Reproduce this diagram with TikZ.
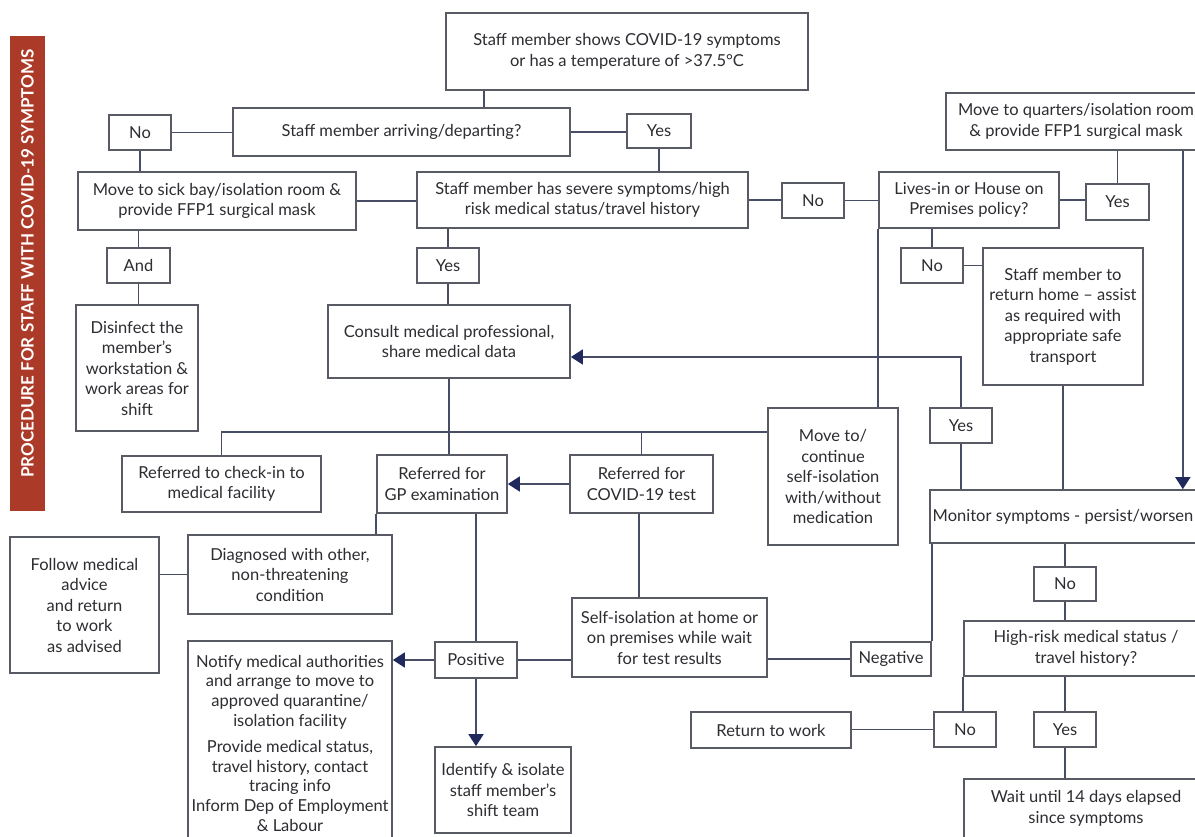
\documentclass[tikz,border=0pt]{standalone}
\usepackage{fontspec}
\setmainfont{Lato}
\usetikzlibrary{arrows.meta,calc}
\definecolor{boxc}{RGB}{88,90,100}
\definecolor{linec}{RGB}{72,76,100}
\definecolor{arrowc}{RGB}{32,42,92}
\definecolor{barc}{RGB}{172,58,40}
\definecolor{textc}{RGB}{45,45,50}
\begin{document}
\begin{tikzpicture}[x=1pt,y=-1pt,
  box/.style={draw=boxc, line width=1.7pt, align=center, inner sep=2pt, text=textc,
    font=\fontsize{16.5}{20.5}\selectfont},
  conn/.style={draw=linec, line width=1.7pt},
  arr/.style={conn, -{Triangle[width=15pt,length=12pt,color=arrowc]}}]
\useasboundingbox (0,0) rectangle (1195,836);
\fill[white] (0,0) rectangle (1195,836);
\clip (0,0) rectangle (1195,836);

% title bar
\node[fill=barc, rotate=90, minimum width=475pt, minimum height=35pt, inner sep=0pt,
  text=white, font=\bfseries\fontsize{17}{17}\selectfont] (bar) at (27.5,273.5)
  {\hspace*{20pt}PROCEDURE FOR STAFF WITH COVID-19 SYMPTOMS};

% boxes
\node[box, minimum width=362pt, minimum height=77pt] (T0) at (627,51.5)
  {Staff member shows COVID-19 symptoms\\or has a temperature of >37.5°C};
\node[box, minimum width=337pt, minimum height=48pt] (Q1) at (401.5,132)
  {Staff member arriving/departing?};
\node[box, minimum width=62pt, minimum height=35pt] (No1) at (140,132.5) {No};
\node[box, minimum width=64pt, minimum height=34pt] (Yes1) at (659,131) {Yes};
\node[box, minimum width=278pt, minimum height=58pt] (B1) at (217,201)
  {Move to sick bay/isolation room \&\\provide FFP1 surgical mask};
\node[box, minimum width=331pt, minimum height=56pt] (Q2) at (582.5,200)
  {Staff member has severe symptoms/high\\risk medical status/travel history};
\node[box, minimum width=62pt, minimum height=35pt] (No2) at (813,200.5) {No};
\node[box, minimum width=180pt, minimum height=56pt] (Q3) at (969,200)
  {Lives-in or House on\\Premises policy?};
\node[box, minimum width=63pt, minimum height=36pt] (Yes3) at (1117.5,202) {Yes};
\node[box, minimum width=260pt, minimum height=57pt] (B2) at (1076,121.5)
  {Move to quarters/isolation room\\\& provide FFP1 surgical mask};
\node[box, minimum width=62pt, minimum height=35pt] (No3) at (932,265.5) {No};
\node[box, minimum width=160pt, minimum height=137pt] (B3) at (1063,316.5)
  {Staff member to\\return home – assist\\as required with\\appropriate safe\\transport};
\node[box, minimum width=63pt, minimum height=35pt] (And1) at (138.5,265.5) {And};
\node[box, minimum width=62pt, minimum height=35pt] (Yes2) at (448,265.5) {Yes};
\node[box, minimum width=242pt, minimum height=73pt] (B5) at (449,341.5)
  {Consult medical professional,\\share medical data};
\node[box, minimum width=122pt, minimum height=126pt] (B6) at (137,368)
  {Disinfect the\\member's\\workstation \&\\work areas for\\shift};
\node[box, minimum width=199pt, minimum height=56pt] (B7) at (221.5,484)
  {Referred to check-in to\\medical facility};
\node[box, minimum width=130pt, minimum height=58pt] (B8) at (442,484)
  {Referred for\\GP examination};
\node[box, minimum width=143pt, minimum height=58pt] (B9) at (641.5,484)
  {Referred for\\COVID-19 test};
\node[box, minimum width=130pt, minimum height=137pt] (B10) at (833,476.5)
  {Move to/\\continue\\self-isolation\\with/without\\medication};
\node[box, minimum width=62pt, minimum height=35pt] (Yes4) at (961,425.5) {Yes};
\node[box, minimum width=280pt, minimum height=53pt] (B4) at (1070,516.5)
  {Monitor symptoms - persist/worsen\hspace*{14pt}};
\node[box, minimum width=204pt, minimum height=79pt] (B11) at (290,574.5)
  {Diagnosed with other,\\non-threatening\\condition};
\node[box, minimum width=149pt, minimum height=136pt] (B12) at (84.5,605)
  {Follow medical\\advice\\and return\\to work\\as advised};
\node[box, minimum width=195pt, minimum height=79pt] (B15) at (669.5,637.5)
  {Self-isolation at home or\\on premises while wait\\for test results};
\node[box, minimum width=82pt, minimum height=36pt] (Pos) at (476,660) {Positive};
\node[box, minimum width=80pt, minimum height=34pt] (Neg) at (891,659) {Negative};
\node[box, minimum width=62pt, minimum height=34pt] (No5) at (1065,584) {No};
\node[box, minimum width=244pt, minimum height=55pt] (Q5) at (1086,648.5)
  {High-risk medical status /\\travel history?};
\node[box, minimum width=62pt, minimum height=35pt] (No6) at (965,729.5) {No};
\node[box, minimum width=62pt, minimum height=35pt] (Yes6) at (1065,729.5) {Yes};
\node[box, minimum width=160pt, minimum height=36pt] (B16) at (771,730) {Return to work};
\node[box, minimum width=244pt, minimum height=59pt] (B17) at (1086,808.5)
  {Wait until 14 days elapsed\\since symptoms};
\node[box, minimum width=204pt, anchor=north, inner ysep=1pt, minimum height=205pt,
  font=\fontsize{16.5}{19.8}\selectfont] (B13) at (290,640)
  {Notify medical authorities\\and arrange to move to\\approved quarantine/\\isolation facility\\[6pt]Provide medical status,\\travel history, contact\\tracing info\\Inform Dep of Employment\\\& Labour};
\node[box, minimum width=136pt, minimum height=86pt] (B14) at (503,790)
  {Identify \& isolate\\staff member's\\shift team};

% connectors
\draw[conn] ([xshift=39pt]T0.south west) coordinate (t0a) -- (t0a |- Q1.north);
\draw[conn] (No1.east) -- (No1.east -| Q1.west);
\draw[conn] (Q1.east) -- (Q1.east -| Yes1.west);
\draw[conn] (Yes1.south) -- (Yes1.south |- Q2.north);
\draw[conn] (No1.south) -- (No1.south |- B1.north);
\draw[conn] (B1.east) -- (B1.east -| Q2.west);
\draw[conn] (Q2.east) -- (Q2.east -| No2.west);
\draw[conn] (No2.east) -- (No2.east -| Q3.west);
\draw[conn] (Q3.east) -- (Q3.east -| Yes3.west);
\draw[conn] (Yes3.north) -- (Yes3.north |- B2.south);
\draw[arr] ([xshift=-24pt]B2.south east) coordinate (b2a) -- (b2a |- B4.north);
\draw[conn] (No3.north |- Q3.south) -- (No3.north);
\draw[conn] (No3.east) -- (No3.east -| B3.west);
\draw[conn] (Q3.south west) -- (Q3.south west |- B10.north);
\draw[conn] (B3.south) -- (B3.south |- B4.north);
\draw[arr] (Yes4.north) |- ([yshift=-15.5pt]B5.east);
\draw[conn] (Yes4.south) -- (Yes4.south |- B4.north);
\draw[conn] (And1.north |- B1.south) -- (And1.north);
\draw[conn] (And1.south) -- (And1.south |- B6.north);
\draw[conn] (Yes2.north |- Q2.south) -- (Yes2.north);
\draw[conn] (Yes2.south) -- (Yes2.south |- B5.north);
\draw[conn] (B5.south) -- (B5.south |- B8.north);
\coordinate (J) at ([yshift=44.5pt]B10.west);
\draw[conn] (B7.north) |- (J);
\draw[conn] (B9.north) -- (B9.north |- J);
\draw[arr] (B9.west) -- (B9.west -| B8.east);
\draw[conn] (B8.south west) -- (B8.south west |- B11.north);
\draw[conn] (B11.west) -- (B11.west -| B12.east);
\draw[conn] (Pos.north |- B8.south) -- (Pos.north);
\draw[arr] (Pos.west) -- (Pos.west -| B13.east);
\draw[arr] (Pos.south) -- (Pos.south |- B14.north);
\draw[conn] ([xshift=-2.5pt]B9.south) coordinate (b9a) -- (b9a |- B15.north);
\draw[conn] (Pos.east) -- (Pos.east -| B15.west);
\draw[conn] (Neg.west -| B15.east) -- (Neg.west);
\draw[conn] (Neg.north east) -- (Neg.north east |- B4.south);
\draw[conn] (No5.north |- B4.south) -- (No5.north);
\draw[conn] (No5.south) -- (No5.south |- Q5.north);
\draw[conn] (Q5.south west) -- (Q5.south west |- No6.north);
\draw[conn] (No6.west) -- (No6.west -| B16.east);
\draw[conn] (Yes6.north |- Q5.south) -- (Yes6.north);
\draw[conn] (Yes6.south) -- (Yes6.south |- B17.north);
\end{tikzpicture}
\end{document}
